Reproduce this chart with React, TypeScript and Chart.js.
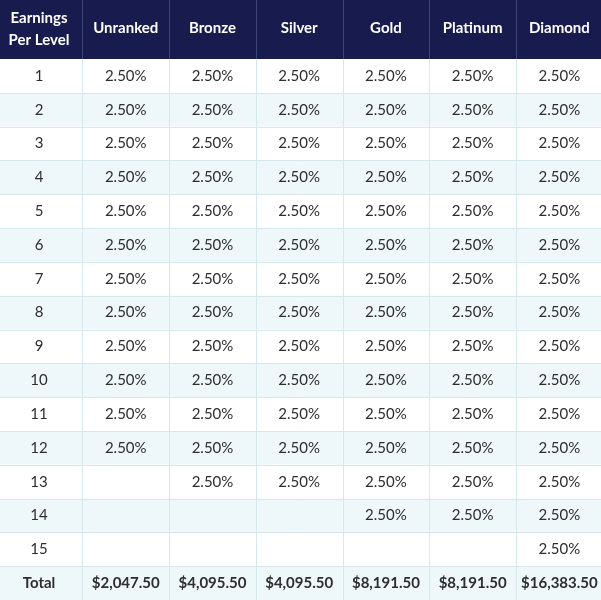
import React, { useEffect, useRef } from "react";
import { Chart, registerables } from "chart.js";
Chart.register(...registerables);

const cornerTitle = ["Earnings", "Per Level"];
const ranks = ["Unranked", "Bronze", "Silver", "Gold", "Platinum", "Diamond"];
const levels = ["1", "2", "3", "4", "5", "6", "7", "8", "9", "10", "11", "12", "13", "14", "15"];
const totalLabel = "Total";

// earning rate (%) per level, per rank (null = not paid)
const unranked = [2.5, 2.5, 2.5, 2.5, 2.5, 2.5, 2.5, 2.5, 2.5, 2.5, 2.5, 2.5, null, null, null];
const bronze = [2.5, 2.5, 2.5, 2.5, 2.5, 2.5, 2.5, 2.5, 2.5, 2.5, 2.5, 2.5, 2.5, null, null];
const silver = [2.5, 2.5, 2.5, 2.5, 2.5, 2.5, 2.5, 2.5, 2.5, 2.5, 2.5, 2.5, 2.5, null, null];
const gold = [2.5, 2.5, 2.5, 2.5, 2.5, 2.5, 2.5, 2.5, 2.5, 2.5, 2.5, 2.5, 2.5, 2.5, null];
const platinum = [2.5, 2.5, 2.5, 2.5, 2.5, 2.5, 2.5, 2.5, 2.5, 2.5, 2.5, 2.5, 2.5, 2.5, null];
const diamond = [2.5, 2.5, 2.5, 2.5, 2.5, 2.5, 2.5, 2.5, 2.5, 2.5, 2.5, 2.5, 2.5, 2.5, 2.5];
const totals = [2047.5, 4095.5, 4095.5, 8191.5, 8191.5, 16383.5];

const rankRates = [unranked, bronze, silver, gold, platinum, diamond];

const NAVY = "#171b4e";
const STRIPE = "#eef7fa";
const GRID = "#d7e8ec";
const HEAD_GRID = "#3d4478";
const TEXT = "#2e2e2e";
const FONT = "Lato, 'Open Sans', sans-serif";

const fmtPct = (v: number) => v.toFixed(2) + "%";
const fmtMoney = (v: number) =>
  "$" + v.toLocaleString("en-US", { minimumFractionDigits: 2, maximumFractionDigits: 2 });

type Cell = { x: number; y: number; t: string; bold?: boolean };

function buildCells(): Cell[] {
  const cells: Cell[] = [];
  levels.forEach((lv, r) => cells.push({ x: 0, y: r, t: lv }));
  cells.push({ x: 0, y: levels.length, t: totalLabel, bold: true });
  rankRates.forEach((arr, c) => {
    arr.forEach((v, r) => {
      if (v !== null) cells.push({ x: c + 1, y: r, t: fmtPct(v) });
    });
    cells.push({ x: c + 1, y: levels.length, t: fmtMoney(totals[c]), bold: true });
  });
  return cells;
}

const tablePlugin = {
  id: "tablePlugin",
  beforeDatasetsDraw(chart: any) {
    const { ctx, chartArea, scales } = chart;
    const x = scales.x;
    const y = scales.y;
    const nRows = levels.length + 1;
    const left = chartArea.left;
    const right = chartArea.right;
    ctx.save();
    // row backgrounds
    for (let r = 0; r < nRows; r++) {
      const top = y.getPixelForValue(r - 0.5);
      const bot = y.getPixelForValue(r + 0.5);
      ctx.fillStyle = r % 2 === 1 ? STRIPE : "#ffffff";
      ctx.fillRect(left, top, right - left, bot - top);
    }
    // header
    const hTop = y.getPixelForValue(y.min);
    const hBot = y.getPixelForValue(-0.5);
    ctx.fillStyle = NAVY;
    ctx.fillRect(left, hTop, right - left, hBot - hTop);
    // horizontal lines
    ctx.strokeStyle = GRID;
    ctx.lineWidth = 1;
    for (let r = 0; r < nRows - 1; r++) {
      const py = Math.round(y.getPixelForValue(r + 0.5)) + 0.5;
      ctx.beginPath();
      ctx.moveTo(left, py);
      ctx.lineTo(right, py);
      ctx.stroke();
    }
    // vertical lines
    for (let c = 0; c < ranks.length; c++) {
      const px = Math.round(x.getPixelForValue(c + 0.5)) + 0.5;
      ctx.strokeStyle = HEAD_GRID;
      ctx.beginPath();
      ctx.moveTo(px, hTop);
      ctx.lineTo(px, hBot);
      ctx.stroke();
      ctx.strokeStyle = GRID;
      ctx.beginPath();
      ctx.moveTo(px, hBot);
      ctx.lineTo(px, chartArea.bottom);
      ctx.stroke();
    }
    ctx.restore();
  },
  afterDatasetsDraw(chart: any) {
    const { ctx, scales } = chart;
    const x = scales.x;
    const y = scales.y;
    ctx.save();
    ctx.textAlign = "center";
    ctx.textBaseline = "middle";
    // header texts
    const hMid = (y.getPixelForValue(y.min) + y.getPixelForValue(-0.5)) / 2;
    ctx.fillStyle = "#ffffff";
    ctx.font = "bold 15px " + FONT;
    ctx.fillText(cornerTitle[0], x.getPixelForValue(0), hMid - 11);
    ctx.fillText(cornerTitle[1], x.getPixelForValue(0), hMid + 11);
    ranks.forEach((rk, c) => {
      ctx.fillText(rk, x.getPixelForValue(c + 1), hMid - 1);
    });
    // body cells from dataset points
    const meta = chart.getDatasetMeta(0);
    const data = chart.data.datasets[0].data as Cell[];
    ctx.fillStyle = TEXT;
    meta.data.forEach((pt: any, i: number) => {
      const d = data[i];
      ctx.font = (d.bold ? "bold " : "") + "15px " + FONT;
      ctx.fillText(d.t, pt.x, pt.y);
    });
    ctx.restore();
  },
};

export default function App() {
  const ref = useRef<HTMLCanvasElement | null>(null);
  useEffect(() => {
    if (!ref.current) return;
    const chart = new Chart(ref.current, {
      type: "scatter",
      data: {
        datasets: [
          {
            data: buildCells() as any,
            pointRadius: 0,
            pointHoverRadius: 0,
            backgroundColor: "transparent",
          },
        ],
      },
      options: {
        animation: false,
        responsive: false,
        events: [],
        layout: { padding: 0 },
        plugins: { legend: { display: false }, tooltip: { enabled: false } },
        scales: {
          x: { type: "linear", min: -0.45, max: 6.48, display: false },
          y: { type: "linear", min: -2.245, max: 15.5, reverse: true, display: false },
        },
      },
      plugins: [tablePlugin],
    });
    return () => chart.destroy();
  }, []);
  return (
    <div style={{ position: "fixed", left: 0, top: 0, width: 601, height: 600, background: "#fff" }}>
      <canvas ref={ref} width={601} height={600} style={{ width: 601, height: 600, display: "block" }} />
    </div>
  );
}
